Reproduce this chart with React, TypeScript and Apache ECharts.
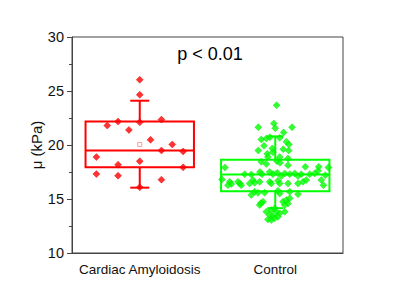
import React, { useEffect, useRef } from "react";
import * as echarts from "echarts";

const categories = ["Cardiac Amyloidosis", "Control"];
const yMin = 10;
const yMax = 30;
const yStep = 5;
const annotation = "p < 0.01";
const yName = "μ (kPa)";

// box stats: [lowerWhisker, q1, median, q3, upperWhisker, mean]
const amyloidBox = [16.05, 17.93, 19.49, 22.17, 24.1, 20.05];
const controlBox = [14.15, 15.71, 17.28, 18.64, 20.8, 17.4];

// jitter offsets (category units) and values
const amyloidOffset = [0, 0, -0.24, -0.16, -0.08, 0, 0.16, 0.08, 0.24, -0.32, 0.16, 0.32, -0.16, 0, 0.32, -0.32, -0.16, 0.16, 0];
const amyloidValue = [26.04, 24.65, 21.8, 22.17, 21.4, 22.1, 22.35, 20.48, 20.05, 18.88, 19.49, 19.4, 18.17, 18.5, 17.93, 17.31, 17.16, 16.79, 16.08];

const controlOffset = [
  0.01, -0.125, -0.01, 0, 0.124, 0.062, -0.103, -0.066, -0.039, 0.033,
  0.082, 0.101, -0.083, -0.022, -0.125, 0.059, 0.099, -0.059, -0.017, -0.054,
  0.033, 0.094, -0.103, 0.013, 0.035, -0.066, 0.094, 0.222, 0.321, -0.225,
  -0.177, -0.113, -0.098, -0.041, -0.017, 0.015, 0.045, 0.07, 0.107, 0.144,
  0.168, 0.192, 0.254, 0.291, 0.316, 0.369, -0.393, -0.164, -0.189, -0.152,
  -0.336, -0.324, -0.349, -0.275, -0.262, -0.251, -0.115, -0.041, -0.029, 0.02,
  0.033, 0.094, 0.168, 0.205, 0.229, 0.34, -0.152, -0.127, -0.078, 0.02,
  0.033, 0.107, -0.177, 0.168, -0.09, -0.115, -0.105, 0.057, 0.082, 0.107,
  0.094, 0.07, -0.066, -0.029, -0.004, 0.008, -0.041, -0.017, 0.033, 0.07,
  -0.054, -0.029, -0.004, 0.02, -0.371, 0.392, 0.355,
];
const controlValue = [
  23.68, 21.65, 21.99, 21.55, 21.65, 21.16, 20.51, 20.6, 20.72, 20.66,
  20.29, 20.05, 19.92, 19.68, 19.49, 19.61, 19.49, 19.18, 19.33, 18.9,
  18.9, 18.75, 18.44, 18.5, 18.35, 18.23, 18.13, 17.98, 17.98, 17.3,
  17.27, 17.49, 17.3, 17.51, 17.3, 17.42, 17.12, 17.37, 17.3, 17.37,
  17.12, 17.3, 17.3, 17.37, 17.61, 17.21, 16.81, 16.75, 16.44, 16.5,
  16.59, 16.38, 16.28, 16.59, 16.44, 16.28, 16.59, 16.59, 16.44, 16.68,
  16.44, 16.44, 16.44, 16.59, 16.75, 16.75, 15.67, 15.57, 15.57, 15.76,
  15.52, 15.67, 15.36, 15.45, 14.74, 14.44, 14.62, 14.74, 14.9, 15.06,
  14.59, 14.44, 13.82, 13.97, 14.13, 13.82, 13.51, 13.42, 13.67, 13.82,
  13.11, 13.05, 13.21, 13.36, 17.92, 17.92, 16.28,
];

const colors = ["#ff0000", "#00ff00"];
const meanColors = ["#ff9a9a", "#9aff9a"];
const FONT = "'Liberation Sans', Arial, sans-serif";

export default function App() {
  const ref = useRef<HTMLDivElement>(null);
  useEffect(() => {
    if (!ref.current) return;
    const chart = echarts.init(ref.current, null, { renderer: "svg" });
    const boxes = [amyloidBox, controlBox].map((b, i) => [i + 1, ...b, i]);
    const pts = (off: number[], val: number[], c: number) =>
      off.map((o, i) => [c + o, val[i]]);

    const option: any = {
      animation: false,
      textStyle: { fontFamily: FONT },
      grid: {
        left: 72,
        right: 57,
        top: 37,
        bottom: 53,
        show: true,
        borderColor: "#444",
        borderWidth: 1,
      },
      xAxis: [
        {
          type: "category",
          data: categories,
          boundaryGap: true,
          axisLine: { lineStyle: { color: "#444", width: 1 } },
          axisTick: { alignWithLabel: true, interval: 0, length: 4, lineStyle: { color: "#444" } },
          axisLabel: { color: "#111", fontSize: 13.5, margin: 9, interval: 0, hideOverlap: false, fontFamily: FONT },
          splitLine: { show: false },
        },
        {
          type: "value",
          min: 0.5,
          max: 2.5,
          show: false,
          splitLine: { show: false },
        },
      ],
      yAxis: {
        type: "value",
        min: yMin,
        max: yMax,
        interval: yStep,
        name: yName,
        nameLocation: "middle",
        nameGap: 28,
        nameMoveOverlap: false,
        nameTextStyle: { color: "#111", fontSize: 15, fontFamily: FONT },
        axisLine: { show: true, lineStyle: { color: "#444", width: 1 } },
        axisTick: { show: true, length: 5, lineStyle: { color: "#444" } },
        minorTick: { show: true, splitNumber: 2, length: 3, lineStyle: { color: "#444" } },
        axisLabel: { color: "#111", fontSize: 14.5, margin: 8, fontFamily: FONT },
        splitLine: { show: false },
      },
      graphic: [
        {
          type: "text",
          x: 210,
          y: 54,
          style: {
            text: annotation,
            fontSize: 18,
            fontFamily: FONT,
            fill: "#000",
            textAlign: "center",
            textVerticalAlign: "middle",
          },
        },
      ],
      series: [
        {
          type: "custom",
          xAxisIndex: 1,
          z: 2,
          data: boxes,
          renderItem: (params: any, api: any) => {
            const x = api.value(0);
            const lo = api.value(1);
            const q1 = api.value(2);
            const med = api.value(3);
            const q3 = api.value(4);
            const hi = api.value(5);
            const mean = api.value(6);
            const ci = api.value(7);
            const c = colors[ci];
            const pL = api.coord([x - 0.4, q3]);
            const pR = api.coord([x + 0.4, q1]);
            const pMedL = api.coord([x - 0.4, med]);
            const pMedR = api.coord([x + 0.4, med]);
            const pHi = api.coord([x, hi]);
            const pQ3 = api.coord([x, q3]);
            const pLo = api.coord([x, lo]);
            const pQ1 = api.coord([x, q1]);
            const pMean = api.coord([x, mean]);
            const capHalf = ci === 0 ? 9.5 : 8;
            const ls = { stroke: c, lineWidth: 2, fill: "none" };
            return {
              type: "group",
              children: [
                { type: "rect", shape: { x: pL[0], y: pL[1], width: pR[0] - pL[0], height: pR[1] - pL[1] }, style: ls },
                { type: "line", shape: { x1: pMedL[0], y1: pMedL[1], x2: pMedR[0], y2: pMedR[1] }, style: ls },
                { type: "line", shape: { x1: pHi[0], y1: pHi[1], x2: pQ3[0], y2: pQ3[1] }, style: ls },
                { type: "line", shape: { x1: pLo[0], y1: pLo[1], x2: pQ1[0], y2: pQ1[1] }, style: ls },
                { type: "line", shape: { x1: pHi[0] - capHalf, y1: pHi[1], x2: pHi[0] + capHalf, y2: pHi[1] }, style: ls },
                { type: "line", shape: { x1: pLo[0] - capHalf, y1: pLo[1], x2: pLo[0] + capHalf, y2: pLo[1] }, style: ls },
                { type: "rect", shape: { x: pMean[0] - 2, y: pMean[1] - 2, width: 4, height: 4 }, style: { stroke: meanColors[ci], lineWidth: 1, fill: "none" } },
              ],
            };
          },
        },
        {
          type: "scatter",
          xAxisIndex: 1,
          z: 3,
          symbol: "diamond",
          symbolSize: 7,
          itemStyle: { color: colors[0], borderColor: "#e00000", borderWidth: 0.5 },
          data: pts(amyloidOffset, amyloidValue, 1),
        },
        {
          type: "scatter",
          xAxisIndex: 1,
          z: 3,
          symbol: "diamond",
          symbolSize: 7,
          itemStyle: { color: colors[1], borderColor: "#00dd00", borderWidth: 0.5 },
          data: pts(controlOffset, controlValue, 2),
        },
      ],
    };
    chart.setOption(option);
    return () => chart.dispose();
  }, []);
  return (
    <div
      ref={ref}
      style={{ position: "fixed", left: 0, top: 0, width: 400, height: 306, background: "#fff" }}
    />
  );
}
